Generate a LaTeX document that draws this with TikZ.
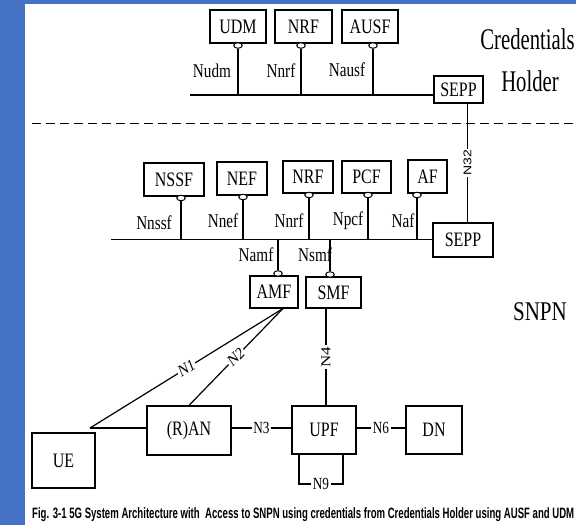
\documentclass[tikz,border=0pt]{standalone}
\usepackage{graphicx}
\usepackage{fontspec}
\usetikzlibrary{shapes.geometric}
\newfontfamily\netfont{Liberation Serif}[FakeStretch=0.78]
\newfontfamily\titlefont{Liberation Serif}[FakeStretch=0.69]
\newfontfamily\serifplain{Liberation Serif}
\newfontfamily\capfont{Liberation Sans}
\definecolor{slideblue}{RGB}{68,114,196}

\begin{document}
\begin{tikzpicture}[x=1pt,y=-1pt,
  nf/.style={draw, line width=1.2pt, fill=white, inner sep=0pt,
    font=\netfont\fontsize{20.5}{24}\selectfont},
  svc/.style={ellipse, draw, fill=white, line width=1pt,
    minimum width=8.5pt, minimum height=5.5pt, inner sep=0pt},
  link/.style={line width=1.2pt},
  iface/.style={font=\netfont\fontsize{19.5}{22}\selectfont, inner sep=1pt},
  ref/.style={font=\netfont\fontsize{17}{20}\selectfont, fill=white, inner sep=1.5pt},
  % reference points on a turned line: the glyphs are turned, then narrowed
  tref/.style={font=\serifplain\fontsize{17}{20}\selectfont, fill=white,
    inner sep=1.5pt, xscale=0.8, rotate=#1},
  sref/.style={font=\capfont\fontsize{14}{16}\selectfont, fill=white,
    inner sep=1.5pt, xscale=0.8, rotate=90},
  areatitle/.style={font=\titlefont\fontsize{30}{34}\selectfont, inner sep=0pt},
]
% slide background and white page
\fill[slideblue] (0,0) rectangle (576,525);
\fill[white] (25,4) rectangle (576,525);
\useasboundingbox (0,0) rectangle (576,525);

% ---------------- credentials holder ----------------
\node[nf, minimum width=56pt, minimum height=33pt] (udm)  at (238,26.5) {UDM};
\node[nf, minimum width=57pt, minimum height=33pt] (nrfA) at (303.5,26.5) {NRF};
\node[nf, minimum width=56pt, minimum height=33pt] (ausf) at (370,26.5) {AUSF};
\node[nf, minimum width=49pt, minimum height=27pt] (seppA) at (458.5,89.5) {SEPP};

\node[svc] (udmS)  at (238,45.5) {};
\node[svc] (nrfAS) at (301,45.5) {};
\node[svc] (ausfS) at (373,45.5) {};

\coordinate (busA) at (190,95);
\draw[link] (busA) -- (busA -| seppA.west);
\draw[link] (udmS)  -- (udmS |- busA);
\draw[link] (nrfAS) -- (nrfAS |- busA);
\draw[link] (ausfS) -- (ausfS |- busA);

\node[iface] (lNudm)  at (212,71) {Nudm};
\node[iface] (lNnrfA) at (281,71) {Nnrf};
\node[iface] (lNausf) at (347,70) {Nausf};

\node[areatitle] (tCred) at (527.5,39) {Credentials};
\node[areatitle] (tHold) at (530,81) {Holder};

% network boundary
\draw[line width=1.8pt, dash pattern=on 9pt off 5pt] (32,123.5) -- (576,123.5);

% ---------------- SNPN ----------------
\node[nf, minimum width=60pt, minimum height=33pt] (nssf) at (174,179.5) {NSSF};
\node[nf, minimum width=50pt, minimum height=33pt] (nef)  at (242,178.5) {NEF};
\node[nf, minimum width=50pt, minimum height=32pt] (nrfB) at (308,177) {NRF};
\node[nf, minimum width=49pt, minimum height=32pt] (pcf)  at (366.5,177) {PCF};
\node[nf, minimum width=39pt, minimum height=33pt] (af)   at (427.5,176.5) {AF};
\node[nf, minimum width=60pt, minimum height=34pt] (seppB) at (463,240) {SEPP};

\node[svc] (nssfS) at (181,198) {};
\node[svc] (nefS)  at (243,197) {};
\node[svc] (nrfBS) at (309,195) {};
\node[svc] (pcfS)  at (368,195) {};
\node[svc] (afS)   at (417,195) {};

\node[nf, minimum width=48pt, minimum height=32pt] (amf) at (274,292) {AMF};
\node[nf, minimum width=55pt, minimum height=31pt] (smf) at (333.5,292.5) {SMF};
\node[svc] (amfS) at (278,273.5) {};
\node[svc] (smfS) at (330,274.5) {};

\coordinate (busB) at (111,239.5);
\draw[link] (busB) -- (busB -| seppB.west);
\draw[link] (nssfS) -- (nssfS |- busB);
\draw[link] (nefS)  -- (nefS |- busB);
\draw[link] (nrfBS) -- (nrfBS |- busB);
\draw[link] (pcfS)  -- (pcfS |- busB);
\draw[link] (afS)   -- (afS |- busB);
\draw[link] (amfS)  -- (amfS |- busB);
\draw[link] (smfS)  -- (smfS |- busB);

\node[iface] (lNnssf) at (154,223) {Nnssf};
\node[iface] (lNnef)  at (223,221) {Nnef};
\node[iface] (lNnrfB) at (289,221) {Nnrf};
\node[iface] (lNpcf)  at (348,221) {Npcf};
\node[iface] (lNaf)   at (403,221) {Naf};
\node[iface] (lNamf)  at (256,255) {Namf};
\node[iface] (lNsmf)  at (315,255) {Nsmf};

% N32 between the two SEPPs
\coordinate (n32x) at (467.5,0);
\draw[link] (seppA.south -| n32x) -- node[sref] {N32} (seppB.north -| n32x);

\node[areatitle, font=\netfont\fontsize{27}{30}\selectfont] (tSnpn) at (540,312) {SNPN};

% user plane
\node[nf, minimum width=63pt, minimum height=55pt] (ue)  at (63.5,460.5) {UE};
\node[nf, minimum width=84pt, minimum height=49pt] (ran) at (189,430.5) {(R)AN};
\node[nf, minimum width=64pt, minimum height=48pt] (upf) at (324,430) {UPF};
\node[nf, minimum width=56pt, minimum height=48pt] (dn)  at (434,430) {DN};

\coordinate (ueJ) at (90,428);
\coordinate (amfJ) at (283,308.5);
\draw[link] (ueJ) -- (ran.west |- ueJ);
\draw[link] (ueJ) -- node[tref=26.3] {N1} (amfJ);
\draw[link] (ran.north) -- node[tref=39.5] {N2} (amfJ);
\draw[link] (ran.east |- ueJ) -- node[ref] {N3} (upf.west |- ueJ);
\draw[link] (upf.east |- ueJ) -- node[ref] {N6} (dn.west |- ueJ);

\coordinate (smfJ) at (326,0);
\draw[link] (smf.south -| smfJ) -- node[tref=90] {N4} (upf.north -| smfJ);

\coordinate (n9a) at (299,484);
\coordinate (n9b) at (343,484);
\draw[link] (n9a |- upf.south) -- (n9a) -- node[ref] {N9} (n9b) -- (n9b |- upf.south);

% caption
\node[anchor=base west, inner sep=0pt] (caption) at (32,518)
  {\resizebox{542pt}{\height}{\capfont\bfseries\fontsize{15}{18}\selectfont
   Fig. 3-1 5G System Architecture with\ \ Access to SNPN using credentials from Credentials Holder using AUSF and UDM}};
\end{tikzpicture}
\end{document}
